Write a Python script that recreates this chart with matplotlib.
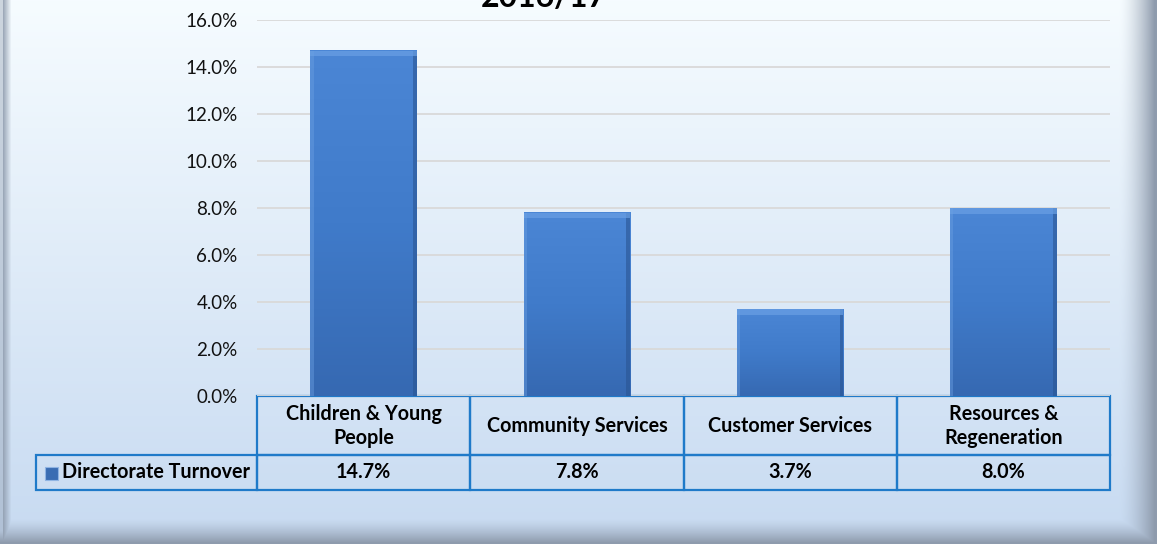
import numpy as np
import matplotlib
matplotlib.use("Agg")
import matplotlib.pyplot as plt
from matplotlib.patches import Rectangle
from matplotlib.table import Table
from matplotlib.transforms import Bbox
from matplotlib.colors import LinearSegmentedColormap

# ---------------- data ----------------
categories = ["Children & Young\nPeople", "Community Services",
              "Customer Services", "Resources &\nRegeneration"]
values = [14.7, 7.8, 3.7, 8.0]
series_name = "Directorate Turnover"
title_text = "2016/17"
yticks = [0, 2, 4, 6, 8, 10, 12, 14, 16]

plt.rcParams['font.family'] = ['Lato', 'DejaVu Sans']

W, H = 1157, 544
fig = plt.figure(figsize=(W / 100, H / 100), dpi=100)

# ---------------- background with bevel ----------------
bg = fig.add_axes([0, 0, 1, 1], zorder=-10)
bg.axis('off')
yy = np.linspace(0, 1, H)[:, None]
top = np.array([0.965, 0.988, 1.0])
bot = np.array([0.78, 0.855, 0.945])
img = top[None, None, :] * (1 - yy[..., None]) + bot[None, None, :] * yy[..., None]
img = np.broadcast_to(img, (H, W, 3)).copy()
gray = np.array([0.56, 0.61, 0.68])
px = np.arange(W)[None, :]
py = np.arange(H)[:, None]
r = np.clip((px - 1118) / 36.0, 0, 1) ** 1.6
l = np.where(px < 3, 0.4, np.clip((11 - px) / 8.0, 0, 1) * 0.85)
b = np.clip((py - 518) / 24.0, 0, 1) ** 1.4
a = np.clip(np.maximum(np.maximum(r, l), b), 0, 1)
img = img * (1 - a[..., None]) + gray[None, None, :] * a[..., None]
bg.imshow(img, extent=[0, 1, 0, 1], aspect='auto', transform=bg.transAxes)
bg.set_xlim(0, 1); bg.set_ylim(0, 1)

# ---------------- main axes ----------------
ax_l, ax_r, ax_t, ax_b = 257, 1110, 20, 396
ax = fig.add_axes([ax_l / W, 1 - ax_b / H, (ax_r - ax_l) / W, (ax_b - ax_t) / H])
ax.patch.set_alpha(0)
for s in ax.spines.values():
    s.set_visible(False)

x = np.arange(len(categories))
ax.set_yticks(yticks)
ax.set_yticklabels([f"{t:.1f}%" for t in yticks], fontsize=13.5, color='#111111')
ax.tick_params(axis='y', length=0, pad=14)
ax.set_xticks([])
ax.yaxis.grid(True, color='#d9d9d9', linewidth=1.3)
ax.set_axisbelow(True)

bars = ax.bar(x, values, width=0.5, color='#3b74c2', edgecolor='none', zorder=2)
vcmap = LinearSegmentedColormap.from_list('v', ['#4b86d5', '#407bca', '#3669b2'])
for bar in bars:
    bx, by = bar.get_x(), bar.get_y()
    bw, bh = bar.get_width(), bar.get_height()
    grad = np.linspace(0, 1, 100)[:, None] * np.ones((1, 60))
    ax.imshow(grad, extent=[bx, bx + bw, by, by + bh], origin='upper',
              cmap=vcmap, aspect='auto', zorder=3, clip_path=bar, clip_on=True)
    ax.add_patch(Rectangle((bx + bw * 0.965, by), bw * 0.035, bh,
                           color='#2a5593', alpha=0.6, zorder=4, lw=0))
    ax.add_patch(Rectangle((bx, by), bw * 0.03, bh,
                           color='#6a9ee0', alpha=0.45, zorder=4, lw=0))
    ax.add_patch(Rectangle((bx, by + bh - 0.24), bw, 0.24,
                           color='#6aa0e4', alpha=0.7, zorder=4, lw=0))
ax.set_xlim(-0.5, len(categories) - 0.5)
ax.set_ylim(0, 16)

# ---------------- data table ----------------
axw, axh = ax_r - ax_l, ax_b - ax_t
hdr_h, row_h = 59, 35
lab_left = 36
lab_w = ax_l - lab_left
col_w = axw / len(categories)
tbl = Table(ax, bbox=Bbox.from_bounds((lab_left - ax_l) / axw, -(hdr_h + row_h) / axh,
                                      (ax_r - lab_left) / axw, (hdr_h + row_h) / axh))
edge = '#1f7ac9'
corner = tbl.add_cell(0, 0, width=lab_w, height=hdr_h, text='', facecolor='none',
                      edgecolor='none')
corner.visible_edges = ''
lc = tbl.add_cell(1, 0, width=lab_w, height=row_h, text=series_name, loc='left',
                  facecolor='none', edgecolor=edge)
lc.PAD = 26 / lab_w
lc.get_text().set_fontweight('bold')
for j, cat in enumerate(categories):
    c = tbl.add_cell(0, j + 1, width=col_w, height=hdr_h, text=cat, loc='center',
                     facecolor='none', edgecolor=edge)
    c.get_text().set_fontweight('bold')
    c.get_text().set_linespacing(1.25)
    c2 = tbl.add_cell(1, j + 1, width=col_w, height=row_h, text=f"{values[j]:.1f}%",
                      loc='center', facecolor='none', edgecolor=edge)
    c2.get_text().set_fontweight('bold')
tbl.auto_set_font_size(False)
tbl.set_fontsize(14.2)
for key, cell in tbl.get_celld().items():
    if key != (0, 0):
        cell.set_linewidth(1.6)
    cell.get_text().set_color('#000000')
ax.add_table(tbl)

# legend key square inside the row label cell
ax.add_patch(Rectangle(((45 - ax_l) / axw, (ax_b - 480) / axh), 13 / axw, 13 / axh,
                       transform=ax.transAxes, facecolor='#3a6db3', edgecolor='#8fb4e3',
                       linewidth=0.8, clip_on=False, zorder=5))

# ---------------- title (cut off at the top, as in the original) ----------------
fig.text(544 / W, 1 - 7 / H, title_text, ha='center', va='baseline',
         fontsize=23, fontweight='bold', color='#000000')

fig.savefig("out.png", dpi=100)
